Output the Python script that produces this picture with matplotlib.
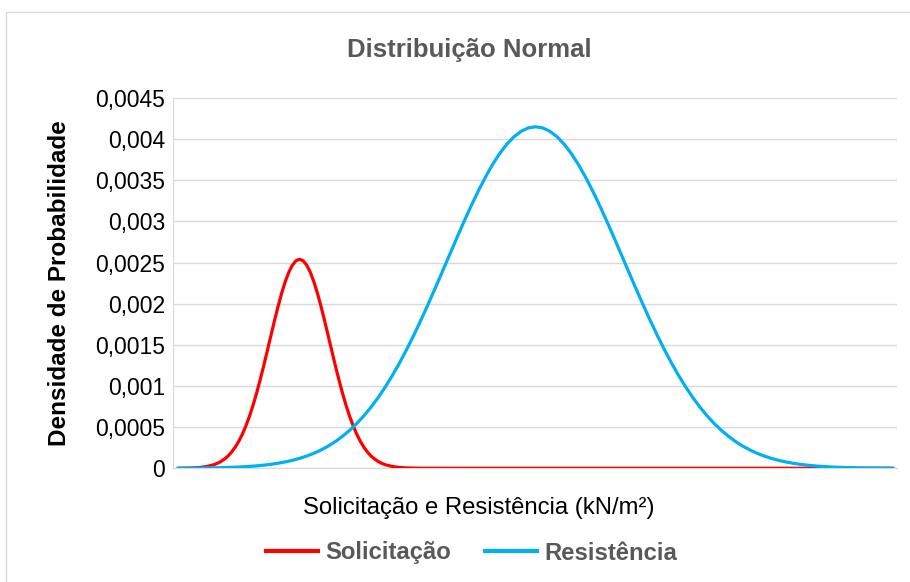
import numpy as np
import matplotlib.pyplot as plt
from matplotlib.patches import Rectangle
from matplotlib.lines import Line2D

plt.rcParams['font.family'] = ['Liberation Sans', 'DejaVu Sans']

# Solicitação (vermelho)
x_solic = [0, 1, 2, 3, 4, 5, 5.5, 6, 6.5, 7, 7.5, 8, 8.5, 9, 9.5, 10, 10.5, 11, 11.5,
           12, 12.5, 13, 13.5, 14, 14.5, 15, 15.5, 16, 16.5, 17, 17.5, 18, 18.5,
           19, 19.5, 20, 20.5, 21, 21.5, 22, 22.5, 23, 23.5, 24, 24.5, 25, 25.5,
           26, 26.5, 27, 27.5, 28, 28.5, 29, 30, 31, 32, 33, 34, 36, 40, 100]
solicitacao = [
    0.0000007, 0.0000018, 0.0000043, 0.0000098, 0.0000211, 0.0000429, 0.0000598,
    0.0000823, 0.000112, 0.000149, 0.000197, 0.000256, 0.000328, 0.000414,
    0.000516, 0.000633, 0.000767, 0.000915, 0.001078, 0.001250, 0.001431,
    0.001614, 0.001795, 0.001968, 0.002128, 0.002268, 0.002383, 0.002469,
    0.002522, 0.00254, 0.002522, 0.002469, 0.002383, 0.002268, 0.002128,
    0.001968, 0.001795, 0.001614, 0.001431, 0.001250, 0.001078, 0.000915,
    0.000767, 0.000633, 0.000516, 0.000414, 0.000328, 0.000256, 0.000197,
    0.000149, 0.000112, 0.0000823, 0.0000598, 0.0000429, 0.0000211, 0.0000098,
    0.0000043, 0.0000018, 0.0000007, 0.0000001, 0, 0,
]

# Resistência (azul)
x_resist = list(range(0, 101))
resistencia = [
    0.0000012, 0.0000017, 0.0000023, 0.0000032, 0.0000043, 0.0000057, 0.0000077,
    0.0000102, 0.0000134, 0.0000175, 0.0000228, 0.0000295, 0.0000379, 0.0000484,
    0.0000613, 0.0000773, 0.0000967, 0.000120, 0.000149, 0.000182, 0.000222,
    0.000269, 0.000324, 0.000388, 0.000461, 0.000544, 0.000638, 0.000743,
    0.000860, 0.000989, 0.001130, 0.001283, 0.001447, 0.001621, 0.001805,
    0.001997, 0.002194, 0.002395, 0.002598, 0.002800, 0.002998, 0.003189,
    0.003370, 0.003539, 0.003692, 0.003826, 0.003940, 0.004030, 0.004096,
    0.004137, 0.00415,
    0.004137, 0.004096, 0.004030, 0.003940, 0.003826, 0.003692, 0.003539,
    0.003370, 0.003189, 0.002998, 0.002800, 0.002598, 0.002395, 0.002194,
    0.001997, 0.001805, 0.001621, 0.001447, 0.001283, 0.001130, 0.000989,
    0.000860, 0.000743, 0.000638, 0.000544, 0.000461, 0.000388, 0.000324,
    0.000269, 0.000222, 0.000182, 0.000149, 0.000120, 0.0000967, 0.0000773,
    0.0000613, 0.0000484, 0.0000379, 0.0000295, 0.0000228, 0.0000175, 0.0000134,
    0.0000102, 0.0000077, 0.0000057, 0.0000043, 0.0000032, 0.0000023, 0.0000017,
    0.0000012,
]

y_ticks = [0, 0.0005, 0.001, 0.0015, 0.002, 0.0025, 0.003, 0.0035, 0.004, 0.0045]
y_labels = ['0', '0,0005', '0,001', '0,0015', '0,002', '0,0025', '0,003',
            '0,0035', '0,004', '0,0045']

cor_verm = '#FF0000'
cor_azul = '#00B0F0'
cinza = '#595959'

fig = plt.figure(figsize=(9.1, 5.82), dpi=100)

# moldura do gráfico
fig.patches.append(Rectangle((6 / 910, -0.02), 1.0, 1 - 12 / 582 + 0.02,
                             transform=fig.transFigure, fill=False,
                             edgecolor='#D9D9D9', linewidth=1.0))

ax = fig.add_axes([0.1901, 0.1954, 0.9857 - 0.1901, 0.8316 - 0.1954])

ax.plot(x_solic, solicitacao, color=cor_verm, linewidth=2.3, solid_capstyle='round', zorder=3)
ax.plot(x_resist, resistencia, color=cor_azul, linewidth=2.3, solid_capstyle='round', zorder=4)

ax.set_xlim(-0.7, 100.56)
ax.set_ylim(0, 0.0045)
ax.set_yticks(y_ticks)
ax.set_yticklabels(y_labels, fontsize=16.5)
ax.set_xticks([])
ax.tick_params(axis='y', length=0, pad=5.5)

ax.grid(axis='y', color='#D9D9D9', linewidth=1.0)
ax.set_axisbelow(True)
for s in ['top', 'right']:
    ax.spines[s].set_visible(False)
ax.spines['left'].set_color('#D9D9D9')
ax.spines['bottom'].set_color('#D9D9D9')

fig.text(60 / 910, 1 - 283.5 / 582, 'Densidade de Probabilidade', rotation=90,
         ha='center', va='center', fontsize=17.5, fontweight='bold')
fig.text(479 / 910, 1 - 508 / 582, 'Solicitação e Resistência (kN/m²)',
         ha='center', va='center', fontsize=17.2)
fig.text(469.5 / 910, 1 - 50 / 582, 'Distribuição Normal', ha='center', va='center',
         fontsize=18.5, fontweight='bold', color=cinza)

handles = [Line2D([], [], color=cor_verm, linewidth=3),
           Line2D([], [], color=cor_azul, linewidth=3)]
leg = fig.legend(handles, ['Solicitação', 'Resistência'], loc='center',
                 bbox_to_anchor=(471.5 / 910, 1 - 553 / 582), ncol=2, frameon=False,
                 handlelength=2.2, handletextpad=0.3, columnspacing=1.4,
                 prop={'size': 17.2, 'weight': 'bold'})
for t in leg.get_texts():
    t.set_color(cinza)

fig.savefig('out.png', dpi=100)
